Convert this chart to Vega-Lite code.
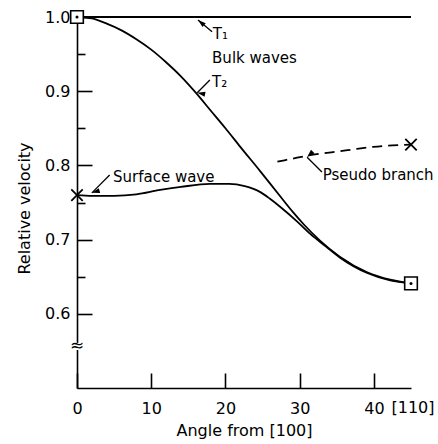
{
  "$schema": "https://vega.github.io/schema/vega-lite/v6.json",
  "autosize": "none",
  "padding": {"left": 77, "top": 17, "right": 27, "bottom": 56},
  "width": 334,
  "height": 371,
  "background": "white",
  "config": {
    "view": {"stroke": null},
    "font": "DejaVu Sans",
    "axis": {
      "domainColor": "black", "domainWidth": 1.6, "tickColor": "black", "tickWidth": 1.6,
      "labelColor": "black", "titleColor": "black", "grid": false,
      "labelFont": "DejaVu Sans", "titleFont": "DejaVu Sans",
      "labelFontSize": 16, "titleFontSize": 16, "titleFontWeight": "normal",
      "labelFlush": false, "labelOverlap": false, "labelBound": false
    }
  },
  "datasets": {
    "curves": [
      {"series": "T1", "deg": 0, "vel": 1.0},
      {"series": "T1", "deg": 45, "vel": 1.0},
      {"series": "T2", "deg": 0, "vel": 1.0},
      {"series": "T2", "deg": 2, "vel": 0.998},
      {"series": "T2", "deg": 4, "vel": 0.991},
      {"series": "T2", "deg": 6, "vel": 0.982},
      {"series": "T2", "deg": 8, "vel": 0.970},
      {"series": "T2", "deg": 10, "vel": 0.956},
      {"series": "T2", "deg": 12, "vel": 0.939},
      {"series": "T2", "deg": 14, "vel": 0.920},
      {"series": "T2", "deg": 16, "vel": 0.898},
      {"series": "T2", "deg": 18, "vel": 0.874},
      {"series": "T2", "deg": 20, "vel": 0.850},
      {"series": "T2", "deg": 22, "vel": 0.825},
      {"series": "T2", "deg": 24.7, "vel": 0.792},
      {"series": "T2", "deg": 27.4, "vel": 0.758},
      {"series": "T2", "deg": 29.1, "vel": 0.737},
      {"series": "T2", "deg": 30.6, "vel": 0.720},
      {"series": "T2", "deg": 32.7, "vel": 0.699},
      {"series": "T2", "deg": 35.4, "vel": 0.677},
      {"series": "T2", "deg": 39.1, "vel": 0.656},
      {"series": "T2", "deg": 42.2, "vel": 0.646},
      {"series": "T2", "deg": 45, "vel": 0.641},
      {"series": "Surface", "deg": 0, "vel": 0.760},
      {"series": "Surface", "deg": 2, "vel": 0.759},
      {"series": "Surface", "deg": 5, "vel": 0.759},
      {"series": "Surface", "deg": 8, "vel": 0.761},
      {"series": "Surface", "deg": 11.2, "vel": 0.767},
      {"series": "Surface", "deg": 14, "vel": 0.771},
      {"series": "Surface", "deg": 17.9, "vel": 0.775},
      {"series": "Surface", "deg": 20.5, "vel": 0.775},
      {"series": "Surface", "deg": 22.6, "vel": 0.772},
      {"series": "Surface", "deg": 24.7, "vel": 0.764},
      {"series": "Surface", "deg": 26, "vel": 0.755},
      {"series": "Surface", "deg": 27.4, "vel": 0.744},
      {"series": "Surface", "deg": 29.6, "vel": 0.725},
      {"series": "Surface", "deg": 31.5, "vel": 0.707},
      {"series": "Surface", "deg": 33.5, "vel": 0.691},
      {"series": "Surface", "deg": 35.4, "vel": 0.676},
      {"series": "Surface", "deg": 39.1, "vel": 0.655},
      {"series": "Surface", "deg": 42.2, "vel": 0.645},
      {"series": "Surface", "deg": 45, "vel": 0.641},
      {"series": "Pseudo", "deg": 27.0, "vel": 0.805},
      {"series": "Pseudo", "deg": 29, "vel": 0.809},
      {"series": "Pseudo", "deg": 31, "vel": 0.813},
      {"series": "Pseudo", "deg": 33, "vel": 0.816},
      {"series": "Pseudo", "deg": 35.4, "vel": 0.819},
      {"series": "Pseudo", "deg": 37.5, "vel": 0.822},
      {"series": "Pseudo", "deg": 39.9, "vel": 0.825},
      {"series": "Pseudo", "deg": 42.5, "vel": 0.827},
      {"series": "Pseudo", "deg": 45, "vel": 0.828}
    ],
    "markers": [
      {"kind": "square", "deg": 0, "vel": 1.0},
      {"kind": "square", "deg": 45, "vel": 0.641},
      {"kind": "cross", "deg": 0, "vel": 0.760},
      {"kind": "cross", "deg": 45, "vel": 0.828}
    ],
    "labels": [
      {"text": "T₁", "deg": 18.3, "vel": 0.971},
      {"text": "Bulk waves", "deg": 18.2, "vel": 0.938},
      {"text": "T₂", "deg": 18.2, "vel": 0.905},
      {"text": "Surface wave", "deg": 4.85, "vel": 0.778},
      {"text": "Pseudo branch", "deg": 33.1, "vel": 0.780}
    ],
    "axislabels": [
      {"text": "[110]", "deg": 45, "vel": 0.5}
    ],
    "arrows": [
      {"arrow": "T1", "deg": 16.3, "vel": 0.996, "deg2": 18.2, "vel2": 0.980},
      {"arrow": "T2", "deg": 16.2, "vel": 0.898, "deg2": 17.9, "vel2": 0.915},
      {"arrow": "Surface", "deg": 2.0, "vel": 0.763, "deg2": 4.4, "vel2": 0.787},
      {"arrow": "Pseudo", "deg": 31.0, "vel": 0.811, "deg2": 33.0, "vel2": 0.791}
    ],
    "axisbreak": [
      {"deg": 0, "vel": 0.556, "sym": "≈"}
    ]
  },
  "layer": [
    {
      "data": {"name": "curves"},
      "transform": [{"filter": "datum.series !== 'Pseudo'"}],
      "mark": {"type": "line", "interpolate": "monotone", "color": "black", "strokeWidth": 1.8, "clip": false},
      "encoding": {
        "x": {
          "field": "deg", "type": "quantitative",
          "scale": {"domain": [0, 45], "nice": false, "zero": false},
          "axis": {
            "title": "Angle from [100]",
            "values": [0, 5, 10, 15, 20, 25, 30, 35, 40, 45],
            "labelExpr": "datum.value > 44 ? '' : (datum.value % 10 == 0 ? datum.label : '')",
            "labelOverlap": false,
            "labelFlush": false,
            "labelBound": false,
            "tickSize": {"condition": [
              {"test": "datum.value > 44", "value": -20},
              {"test": "datum.value % 10 != 0", "value": -7}
            ], "value": -15},
            "labelPadding": 27,
            "titleY": 34, "titleBaseline": "top", "titleAnchor": "middle"
          }
        },
        "y": {
          "field": "vel", "type": "quantitative",
          "scale": {"domain": [0.5, 1.0], "nice": false, "zero": false},
          "axis": {
            "title": "Relative velocity",
            "values": [0.6, 0.65, 0.7, 0.75, 0.8, 0.85, 0.9, 0.95, 1.0],
            "labelExpr": "round(datum.value * 100) % 10 == 5 ? '' : format(datum.value, '.1f')",
            "labelOverlap": false,
            "tickSize": {"condition": {"test": "round(datum.value * 100) % 10 == 5", "value": -8}, "value": -15},
            "labelPadding": 22,
            "titleX": -53, "titleY": 191, "titleBaseline": "middle", "titleAngle": 270
          }
        },
        "detail": {"field": "series", "type": "nominal"}
      }
    },
    {
      "data": {"name": "curves"},
      "transform": [{"filter": "datum.series === 'Pseudo'"}],
      "mark": {"type": "line", "interpolate": "monotone", "color": "black", "strokeWidth": 1.8, "strokeDash": [10, 6]},
      "encoding": {
        "x": {"field": "deg", "type": "quantitative"},
        "y": {"field": "vel", "type": "quantitative"}
      }
    },
    {
      "data": {"name": "arrows"},
      "mark": {"type": "rule", "color": "black", "strokeWidth": 1.3},
      "encoding": {
        "x": {"field": "deg", "type": "quantitative"},
        "y": {"field": "vel", "type": "quantitative"},
        "x2": {"field": "deg2"},
        "y2": {"field": "vel2"}
      }
    },
    {
      "data": {"name": "arrows"},
      "mark": {"type": "point", "shape": "M0,0L-0.5,1.6L0.5,1.6Z", "filled": true, "color": "black", "size": 100, "opacity": 1},
      "encoding": {
        "x": {"field": "deg", "type": "quantitative"},
        "y": {"field": "vel", "type": "quantitative"},
        "angle": {"field": "arrow", "type": "nominal", "scale": {"domain": ["T1", "T2", "Surface", "Pseudo"], "range": [310, 225, 225, 315]}, "legend": null}
      }
    },
    {
      "data": {"name": "markers"},
      "transform": [{"filter": "datum.kind === 'square'"}],
      "mark": {"type": "point", "shape": "square", "filled": true, "fill": "white", "stroke": "black", "strokeWidth": 1.6, "size": 160, "opacity": 1, "clip": false},
      "encoding": {
        "x": {"field": "deg", "type": "quantitative"},
        "y": {"field": "vel", "type": "quantitative"}
      }
    },
    {
      "data": {"name": "markers"},
      "transform": [{"filter": "datum.kind === 'square'"}],
      "mark": {"type": "point", "shape": "circle", "filled": true, "color": "black", "size": 9, "opacity": 1},
      "encoding": {
        "x": {"field": "deg", "type": "quantitative"},
        "y": {"field": "vel", "type": "quantitative"}
      }
    },
    {
      "data": {"name": "markers"},
      "transform": [{"filter": "datum.kind === 'cross'"}],
      "mark": {"type": "point", "shape": "M-1,-1L1,1M-1,1L1,-1", "filled": false, "stroke": "black", "strokeWidth": 1.8, "size": 130, "opacity": 1},
      "encoding": {
        "x": {"field": "deg", "type": "quantitative"},
        "y": {"field": "vel", "type": "quantitative"}
      }
    },
    {
      "data": {"name": "axisbreak"},
      "mark": {"type": "point", "shape": "square", "filled": true, "color": "white", "size": 50, "opacity": 1},
      "encoding": {
        "x": {"field": "deg", "type": "quantitative"},
        "y": {"field": "vel", "type": "quantitative"}
      }
    },
    {
      "data": {"name": "axisbreak"},
      "mark": {"type": "text", "font": "DejaVu Sans", "fontSize": 17, "align": "center", "baseline": "middle", "color": "black"},
      "encoding": {
        "x": {"field": "deg", "type": "quantitative"},
        "y": {"field": "vel", "type": "quantitative"},
        "text": {"field": "sym"}
      }
    },
    {
      "data": {"name": "axislabels"},
      "mark": {"type": "text", "font": "DejaVu Sans", "fontSize": 16, "align": "center", "baseline": "top", "dx": 2, "dy": 12, "color": "black", "clip": false},
      "encoding": {
        "x": {"field": "deg", "type": "quantitative"},
        "y": {"field": "vel", "type": "quantitative"},
        "text": {"field": "text"}
      }
    },
    {
      "data": {"name": "labels"},
      "mark": {"type": "text", "font": "DejaVu Sans", "fontSize": 15, "align": "left", "baseline": "alphabetic", "color": "black"},
      "encoding": {
        "x": {"field": "deg", "type": "quantitative"},
        "y": {"field": "vel", "type": "quantitative"},
        "text": {"field": "text"}
      }
    }
  ]
}
